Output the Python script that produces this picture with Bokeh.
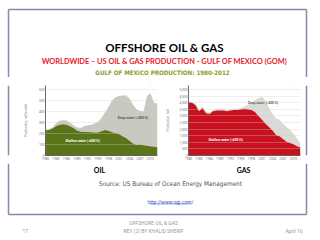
from bokeh.plotting import figure
from bokeh.layouts import column, row
from bokeh.models import Range1d, Label, NumeralTickFormatter, FixedTicker
from bokeh.embed import file_html
from bokeh.resources import INLINE

# Gulf of Mexico production by year, 1980-2012
years = list(range(1980, 2013))

# Oil, million bbl: total and shallow-water (<400 ft) part
oil_total = [235, 240, 255, 290, 315, 320, 318, 300, 275, 255, 250, 265, 275, 280, 290, 305,
             340, 390, 440, 500, 530, 540, 545, 545, 520, 460, 420, 405, 400, 540, 565, 480, 470]
oil_shallow = [230, 232, 245, 265, 280, 283, 280, 265, 250, 228, 215, 213, 213, 212, 210, 210,
               220, 232, 225, 212, 205, 195, 175, 160, 135, 110, 95, 100, 92, 88, 84, 80, 76]

# Gas, bcf: total and shallow-water (<400 ft) part
gas_total = [4050, 4050, 3950, 3450, 3700, 3350, 3250, 3450, 3500, 3500, 3550, 3450, 3500, 3550,
             3550, 3600, 3700, 3850, 4000, 4200, 4350, 4450, 4150, 3600, 3150, 2800, 2700, 2400,
             2150, 1950, 1650, 1300, 850]
gas_shallow = [4050, 4000, 3800, 3350, 3600, 3200, 3150, 3350, 3400, 3400, 3400, 3350, 3400, 3450,
               3450, 3500, 3550, 3500, 3450, 3300, 3000, 2700, 2400, 2150, 1900, 1550, 1450, 1250,
               1050, 950, 850, 700, 600]

year_ticks = [1980, 1983, 1986, 1989, 1992, 1995, 1998, 2001, 2004, 2007, 2010]
oil_ticks = [0, 100, 200, 300, 400, 500, 600]
gas_ticks = [0, 500, 1000, 1500, 2000, 2500, 3000, 3500, 4000, 4500, 5000]

BORDER = "#7f8da6"
FONT = "Lato"
NARROW = "DejaVu Sans Condensed"
SMALL = "Roboto"


def strip(w, h, x0, y0):
    """Plain drawing surface in slide pixel coordinates (y grows downward)."""
    f = figure(width=w, height=h, x_range=Range1d(x0, x0 + w), y_range=Range1d(y0 + h, y0),
               output_backend="svg", toolbar_location=None, min_border=0,
               x_axis_location=None, y_axis_location=None)
    f.grid.visible = False
    f.outline_line_color = None
    f.background_fill_color = "white"
    f.border_fill_color = "white"
    return f


def add_text(f, x, y, text, size, color="black", bold=False, align="center", font=FONT):
    f.add_layout(Label(x=x, y=y, text=text, text_font=font, text_font_size=size,
                       text_font_style="bold" if bold else "normal", text_color=color,
                       text_align=align, text_baseline="middle"))


def vborder(f, y0, y1, xs=(8, 306)):
    for x in xs:
        f.segment(x0=[x], y0=[y0], x1=[x], y1=[y1], line_color=BORDER, line_width=1.5)


# ---- top band: frame top and headings
top = strip(320, 77, 0, 0)
top.segment(x0=[8], y0=[9], x1=[306], y1=[9], line_color=BORDER, line_width=1.5)
vborder(top, 9, 77)
add_text(top, 164, 47, "OFFSHORE OIL & GAS", "11.5px", bold=True)
add_text(top, 164, 61, "WORLDWIDE \u2013 US OIL & GAS PRODUCTION - GULF OF MEXICO (GOM)", "7.4px",
         color="#e8202a", bold=True)
add_text(top, 162, 72, "GULF OF MEXICO PRODUCTION: 1980-2012", "6.2px", color="#8c9c2c",
         bold=True, font=NARROW)


def area_chart(w, total, shallow, ticks, ymax, low_color, high_color, ylabel, name, fig_tag,
               border_left, border_right, label_standoff, fmt, deep_pos, shallow_pos):
    p = figure(width=w, height=86, x_range=Range1d(1980, 2012), y_range=Range1d(0, ymax),
               output_backend="svg", toolbar_location=None,
               min_border_left=border_left, min_border_right=border_right,
               min_border_top=8, min_border_bottom=8)
    p.outline_line_color = None
    p.background_fill_color = "white"
    p.border_fill_color = "white"
    p.varea(x=years, y1=shallow, y2=total, fill_color=high_color)
    p.varea(x=years, y1=[0] * len(years), y2=shallow, fill_color=low_color)

    p.xgrid.visible = False
    p.ygrid.ticker = FixedTicker(ticks=ticks[1:])
    p.ygrid.grid_line_color = "#cfcfcf"
    p.ygrid.grid_line_width = 0.6
    p.ygrid.level = "overlay"
    p.ygrid.grid_line_alpha = 0.55

    p.xaxis.ticker = FixedTicker(ticks=year_ticks)
    p.yaxis.ticker = FixedTicker(ticks=ticks)
    p.yaxis.formatter = NumeralTickFormatter(format=fmt)
    for ax in (p.xaxis[0], p.yaxis[0]):
        ax.major_tick_out = 0
        ax.major_tick_in = 0
        ax.minor_tick_out = 0
        ax.minor_tick_in = 0
        ax.major_label_standoff = 1
        ax.major_label_text_font = SMALL
        ax.major_label_text_font_size = "3.3px"
        ax.major_label_text_color = "#777777"
        ax.axis_line_color = "#444444"
        ax.axis_line_width = 0.8
    p.yaxis.axis_label = ylabel
    p.yaxis.axis_label_text_font = SMALL
    p.yaxis.axis_label_text_font_size = "3.3px"
    p.yaxis.axis_label_text_font_style = "normal"
    p.yaxis.axis_label_text_color = "#777777"
    p.yaxis.axis_label_standoff = label_standoff

    p.add_layout(Label(x=1980, y=ymax, x_offset=1.5, text=name, text_font=SMALL,
                       text_font_size="5px", text_font_style="bold", text_color="#333333",
                       text_baseline="bottom"))
    p.add_layout(Label(x=2012, y=ymax, x_offset=-1, text=fig_tag, text_font=SMALL,
                       text_font_size="3px", text_color="#777777", text_align="right",
                       text_baseline="bottom"))
    p.add_layout(Label(x=deep_pos[0], y=deep_pos[1], text="Deep water (>400 ft)",
                       text_font=SMALL, text_font_size="3.3px", text_font_style="bold",
                       text_color="#555555", text_align="center", text_baseline="middle"))
    p.add_layout(Label(x=shallow_pos[0], y=shallow_pos[1], text="Shallow water (<400 ft)",
                       text_font=SMALL, text_font_size="3.3px", text_font_style="bold",
                       text_color="white", text_align="center", text_baseline="middle"))
    return p


oil = area_chart(143, oil_total, oil_shallow, oil_ticks, 636, "#5a7519", "#c9c9c1",
                 "Production, million bbl", "Oil", "Fig. 1a", 22, 6, 8, "0",
                 (2005, 345), (1990.6, 136))
gas = area_chart(141, gas_total, gas_shallow, gas_ticks, 5303, "#c8101e", "#dcdad6",
                 "Production, bcf", "Gas", "Fig. 1b", 23, 4, 6, "0,0",
                 (2001.3, 3940), (1990.6, 1210))

left = strip(20, 86, 0, 77)
vborder(left, 77, 163, xs=(8,))
right = strip(16, 86, 304, 77)
vborder(right, 77, 163, xs=(306,))
middle = row(left, oil, gas, right, spacing=0)

# ---- bottom band: captions, source, link, frame bottom and footer
bot = strip(320, 77, 0, 163)
vborder(bot, 163, 214)
bot.segment(x0=[8], y0=[214], x1=[306], y1=[214], line_color=BORDER, line_width=1.5)
add_text(bot, 99, 169, "OIL", "7px", bold=True)
add_text(bot, 243, 169, "GAS", "7px", bold=True)
add_text(bot, 170, 183, "Source: US Bureau of Ocean Energy Management", "6.4px",
         color="#555555", font=NARROW)
add_text(bot, 170, 201, "http://www.ogj.com/", "5px", color="#3355cc", font=SMALL)
bot.segment(x0=[149], y0=[203.5], x1=[191], y1=[203.5], line_color="#3355cc", line_width=0.5)
add_text(bot, 153, 222, "OFFSHORE OIL & GAS", "5px", color="#9a9a9a", font=SMALL)
add_text(bot, 153, 230, "REV (2) BY KHALID SHERIF", "5px", color="#9a9a9a", font=SMALL)
add_text(bot, 22, 230, "17", "5px", color="#9a9a9a", align="left", font=SMALL)
add_text(bot, 302, 230, "April 16", "5px", color="#9a9a9a", align="right", font=SMALL)

page = column(top, middle, bot, spacing=0)

open("out.html", "w").write(file_html(page, INLINE))
